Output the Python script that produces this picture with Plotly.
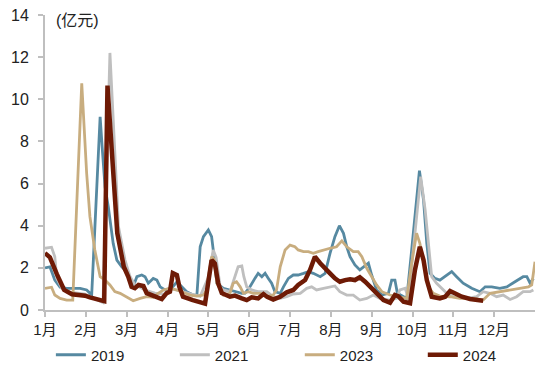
import plotly.graph_objects as go

# x positions in months since 1 Jan (0 = 1月初, 12 = 年末); values in 亿元
month_labels = ["1月", "2月", "3月", "4月", "5月", "6月", "7月", "8月", "9月", "10月", "11月", "12月"]
month_ticks = list(range(12))

x2019 = [0, 0.12, 0.24, 0.37, 0.53, 0.86, 1.02, 1.10, 1.14, 1.35, 1.41, 1.47, 1.55, 1.67, 1.76, 1.88,
         2.00, 2.08, 2.16, 2.25, 2.37, 2.45, 2.53, 2.65, 2.74, 2.82, 2.94, 3.10, 3.23, 3.35, 3.47, 3.63,
         3.72, 3.80, 3.88, 4.00, 4.08, 4.12, 4.21, 4.37, 4.53, 4.65, 4.82, 4.90, 5.02, 5.14, 5.22, 5.31,
         5.39, 5.47, 5.55, 5.63, 5.76, 5.84, 5.96, 6.08, 6.20, 6.33, 6.45, 6.57, 6.74, 6.86, 6.98, 7.10,
         7.21, 7.31, 7.39, 7.47, 7.59, 7.71, 7.80, 7.92, 8.00, 8.12, 8.25, 8.41, 8.49, 8.57, 8.63, 8.78,
         8.86, 8.98, 9.17, 9.27, 9.35, 9.43, 9.55, 9.67, 9.84, 9.96, 10.08, 10.24, 10.45, 10.65, 10.78,
         10.94, 11.14, 11.31, 11.51, 11.71, 11.80, 11.88, 11.96]
y2019 = [2.0, 2.05, 1.42, 1.08, 1.03, 1.03, 0.95, 0.8, 0.57, 9.17, 7.45, 5.85, 4.9, 3.16, 2.37, 2.05,
         1.82, 1.42, 1.1, 1.58, 1.66, 1.58, 1.27, 1.5, 1.42, 1.1, 0.95, 1.03, 1.34, 1.1, 0.87, 0.71,
         0.71, 3.0, 3.48, 3.8, 3.48, 2.85, 1.27, 1.03, 0.95, 0.87, 0.79, 0.8, 1.1, 1.5, 1.74, 1.58,
         1.74, 1.5, 1.27, 0.87, 0.79, 1.1, 1.5, 1.66, 1.66, 1.74, 1.82, 1.74, 1.58, 1.74, 2.69, 3.48,
         4.0, 3.64, 3.0, 2.53, 2.14, 1.9, 2.05, 2.22, 1.66, 0.95, 0.71, 0.79, 1.42, 1.42, 0.79, 0.63,
         0.55, 2.85, 6.61, 5.22, 3.16, 1.74, 1.5, 1.42, 1.66, 1.82, 1.58, 1.27, 1.03, 0.87, 1.1,
         1.1, 1.03, 1.1, 1.34, 1.58, 1.58, 1.27, 1.5]

x2021 = [0, 0.16, 0.24, 0.29, 0.42, 0.61, 0.98, 1.22, 1.42, 1.59, 1.69, 1.80, 1.96, 2.08, 2.20, 2.45,
         2.69, 2.94, 3.11, 3.31, 3.55, 3.80, 3.99, 4.12, 4.19, 4.29, 4.37, 4.53, 4.65, 4.73, 4.82, 4.87,
         4.94, 5.06, 5.22, 5.43, 5.59, 5.76, 5.92, 6.08, 6.25, 6.41, 6.53, 6.65, 6.82, 6.98, 7.10, 7.22,
         7.39, 7.55, 7.71, 7.88, 8.04, 8.20, 8.45, 8.61, 8.69, 8.82, 8.90, 9.06, 9.20, 9.31, 9.41, 9.47,
         9.59, 9.72, 9.84, 10.00, 10.33, 10.57, 10.73, 10.90, 11.06, 11.22, 11.39, 11.55, 11.71, 11.88,
         11.96]
y2021 = [2.93, 2.98, 2.53, 1.5, 1.0, 0.85, 0.75, 0.55, 0.35, 12.2, 8.0, 3.95, 2.37, 1.6, 1.2, 0.95,
         0.8, 0.75, 1.0, 0.9, 0.75, 0.65, 1.5, 2.85, 2.5, 1.1, 0.95, 0.87, 1.58, 2.05, 2.09, 1.58,
         1.1, 0.95, 0.87, 0.87, 0.63, 0.55, 0.63, 0.76, 0.79, 1.03, 1.1, 0.95, 1.03, 1.1, 1.14, 0.87,
         0.71, 0.71, 0.47, 0.55, 0.71, 0.55, 0.47, 0.55, 0.95, 1.03, 0.55, 3.64, 6.33, 4.75, 2.85, 1.58,
         1.27, 1.03, 0.79, 0.63, 0.55, 0.63, 0.87, 0.79, 0.63, 0.71, 0.5, 0.63, 0.87, 0.87,
         0.95]

x2023 = [0, 0.16, 0.24, 0.37, 0.53, 0.68, 0.90, 1.02, 1.10, 1.22, 1.35, 1.47, 1.59, 1.71, 1.84, 2.00,
         2.16, 2.33, 2.49, 2.65, 2.77, 2.90, 3.06, 3.23, 3.39, 3.55, 3.72, 3.88, 3.96, 4.08, 4.14, 4.21,
         4.37, 4.53, 4.61, 4.69, 4.78, 4.86, 4.98, 5.10, 5.27, 5.43, 5.59, 5.67, 5.76, 5.88, 6.00, 6.12,
         6.20, 6.33, 6.45, 6.57, 6.69, 6.82, 6.98, 7.14, 7.27, 7.39, 7.55, 7.67, 7.76, 7.88, 8.00, 8.12,
         8.25, 8.45, 8.61, 8.86, 8.98, 9.10, 9.18, 9.27, 9.39, 9.51, 9.67, 9.92, 10.16, 10.49, 10.73,
         10.90, 11.14, 11.39, 11.63, 11.84, 11.92, 12.0]
y2023 = [1.03, 1.08, 0.71, 0.55, 0.47, 0.47, 10.76, 6.49, 4.43, 2.85, 1.58, 1.42, 1.19, 0.87, 0.79, 0.6,
         0.44, 0.55, 0.63, 0.6, 0.79, 0.95, 1.03, 0.95, 0.82, 0.71, 0.66, 0.71, 0.95, 2.53, 2.4, 1.27,
         0.71, 0.79, 1.27, 1.34, 1.1, 0.79, 0.87, 0.79, 0.79, 0.63, 0.71, 0.95, 2.05, 2.85, 3.08, 3.0,
         2.85, 2.77, 2.77, 2.69, 2.77, 2.85, 2.93, 3.0, 3.28, 3.0, 2.77, 2.77, 2.53, 1.98, 1.58, 1.19,
         0.87, 0.71, 0.63, 0.55, 2.22, 3.64, 3.16, 2.22, 1.1, 0.79, 0.66, 0.63, 0.55, 0.55, 0.47,
         0.79, 0.87, 0.95, 1.03, 1.1, 1.19, 2.29]

x2024 = [0, 0.12, 0.29, 0.47, 0.66, 0.98, 1.10, 1.22, 1.35, 1.45, 1.53, 1.67, 1.77, 1.93, 2.04, 2.12,
         2.20, 2.29, 2.41, 2.49, 2.65, 2.86, 2.98, 3.06, 3.13, 3.23, 3.29, 3.38, 3.62, 3.92, 4.08, 4.16,
         4.24, 4.33, 4.53, 4.65, 4.82, 4.94, 5.06, 5.22, 5.35, 5.44, 5.59, 5.76, 5.92, 6.08, 6.20, 6.37,
         6.49, 6.61, 6.74, 6.86, 6.98, 7.10, 7.22, 7.35, 7.47, 7.59, 7.71, 7.84, 7.96, 8.12, 8.29, 8.45,
         8.57, 8.65, 8.78, 8.94, 9.06, 9.18, 9.27, 9.35, 9.47, 9.67, 9.80, 9.92, 10.04, 10.21, 10.41, 10.73]
y2024 = [2.7, 2.5, 1.7, 0.95, 0.75, 0.68, 0.6, 0.55, 0.45, 0.42, 10.65, 6.8, 3.65, 2.05, 1.58, 1.1,
         1.04, 1.19, 1.14, 0.8, 0.66, 0.52, 0.8, 0.87, 1.75, 1.66, 1.1, 0.63, 0.47, 0.3, 2.37, 2.2,
         1.27, 0.8, 0.63, 0.68, 0.55, 0.47, 0.6, 0.55, 0.76, 0.63, 0.5, 0.63, 0.84, 0.95, 1.19, 1.42,
         1.9, 2.53, 2.22, 1.95, 1.74, 1.5, 1.34, 1.42, 1.46, 1.42, 1.55, 1.34, 1.1, 0.79, 0.47, 0.35,
         0.71, 0.66, 0.39, 0.32, 1.9, 3.0, 2.37, 1.42, 0.63, 0.55, 0.63, 0.9, 0.79, 0.63, 0.52, 0.44]

series = [
    ("2019", x2019, y2019, "#5689A1", 2.8, "legend"),
    ("2021", x2021, y2021, "#BFBFBF", 2.8, "legend2"),
    ("2023", x2023, y2023, "#C8AD7F", 2.8, "legend3"),
    ("2024", x2024, y2024, "#6E1A05", 4.5, "legend4"),
]
legend_x = [0.012, 0.265, 0.52, 0.771]

FONT = "Liberation Sans, Arial, Noto Sans CJK SC, sans-serif"

fig = go.Figure()
for name, xs, ys, color, w, leg in series:
    fig.add_trace(go.Scatter(x=xs, y=ys, name=name, mode="lines", legend=leg,
                             line=dict(color=color, width=w)))

legend_common = dict(orientation="h", xanchor="left", y=-0.1525, yanchor="middle",
                     font=dict(size=15, color="#222222"), bgcolor="rgba(0,0,0,0)")
legends = {}
for i, lx in enumerate(legend_x):
    key = "legend" if i == 0 else f"legend{i + 1}"
    legends[key] = dict(x=lx, **legend_common)

fig.update_layout(
    width=550, height=378,
    margin=dict(l=37, r=23, t=7, b=76, autoexpand=False),
    paper_bgcolor="white", plot_bgcolor="white",
    font=dict(family=FONT, size=14, color="#222222"),
    showlegend=True,
    xaxis=dict(range=[0, 12], tickvals=month_ticks, ticktext=month_labels,
               showgrid=False, zeroline=False, showline=True, linecolor="#BFBFBF", linewidth=1.5,
               ticks="outside", ticklen=5, tickcolor="#BFBFBF", tickwidth=1.5,
               tickfont=dict(size=15), automargin=False, ticklabeloverflow="allow"),
    yaxis=dict(range=[0, 14], dtick=2, showgrid=False, zeroline=False,
               showline=True, linecolor="#BFBFBF", linewidth=2,
               ticks="outside", ticklen=5, tickcolor="#BFBFBF", tickwidth=1.5,
               tickfont=dict(size=16), ticklabelstandoff=6, automargin=False,
               ticklabeloverflow="allow"),
    annotations=[dict(text="(亿元)", xref="paper", yref="paper", x=0.018, y=0.98,
                      xanchor="left", yanchor="middle", showarrow=False,
                      font=dict(size=16, color="#222222"))],
    **legends,
)

fig.write_html("out.html")
